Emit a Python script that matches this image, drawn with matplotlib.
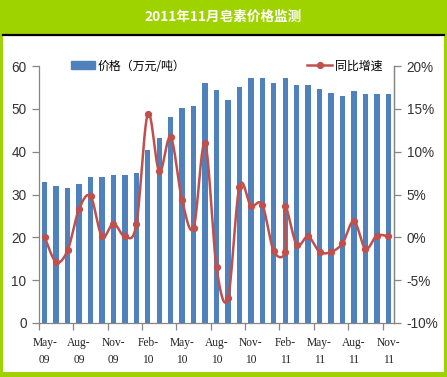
import matplotlib
matplotlib.use("Agg")
import matplotlib.pyplot as plt
import matplotlib.patches as mpatches
from matplotlib.lines import Line2D
import numpy as np

plt.rcParams['font.family'] = ['Noto Sans CJK SC', 'DejaVu Sans']

# ---------------- data ----------------
title = "2011年11月皂素价格监测"
tick_labels = ["May-\n09", "Aug-\n09", "Nov-\n09", "Feb-\n10", "May-\n10", "Aug-\n10",
               "Nov-\n10", "Feb-\n11", "May-\n11", "Aug-\n11", "Nov-\n11"]
prices = [33.0, 32.1, 31.6, 32.5, 34.2, 34.2, 34.6, 34.6, 35.1, 40.3, 43.3, 48.2,
          50.2, 50.7, 56.1, 54.3, 52.1, 55.1, 57.2, 57.2, 56.1, 57.2, 55.6, 55.6,
          54.7, 53.7, 53.0, 54.2, 53.5, 53.5, 53.5]
yoy_month_idx = [0, 1, 2, 3, 4, 5, 6, 7, 8, 9, 10, 11, 12, 13, 14, 15, 16, 17, 18, 19, 20,
                 21, 21, 22, 23, 24, 25, 26, 27, 28, 29, 30]
yoy = [0.0, -2.9, -1.5, 3.3, 4.8, 0.1, 1.6, 0.1, 1.5, 14.4, 7.7, 11.7, 4.3, 1.1, 11.0,
       -3.5, -7.1, 5.9, 3.7, 3.8, -1.6, -1.7, 3.7, -0.85, 0.1, -1.7, -1.7, -0.7, 1.9,
       -1.35, 0.2, 0.1]
bar_label = "价格（万元/吨）"
line_label = "同比增速"

GREEN = '#9FD300'
BLUE = '#4F81BD'
RED = '#C0504D'
GREY = '#868686'

W, H = 447, 377
fig = plt.figure(figsize=(W / 100, H / 100), dpi=100)
fig.patch.set_facecolor('white')

# frame decorations
fig.add_artist(mpatches.Rectangle((0, 1 - 34 / H), 1, 34 / H, transform=fig.transFigure,
                                  facecolor=GREEN, edgecolor='none', zorder=0))
fig.add_artist(mpatches.Rectangle((0, 0), 2.7 / W, 1, transform=fig.transFigure,
                                  facecolor=GREEN, edgecolor='none', zorder=0))
fig.add_artist(mpatches.Rectangle((1 - 3.2 / W, 0), 3.2 / W, 1, transform=fig.transFigure,
                                  facecolor=GREEN, edgecolor='none', zorder=0))
fig.add_artist(mpatches.Rectangle((0, 0), 1, 5 / H, transform=fig.transFigure,
                                  facecolor=GREEN, edgecolor='none', zorder=0))
fig.add_artist(Line2D([2.7 / W, 1 - 3.2 / W], [1 - 34.5 / H, 1 - 34.5 / H],
                      transform=fig.transFigure, color='black', lw=1.6, zorder=1))
fig.text(0.5, 1 - 17 / H, title, color='white', fontsize=9.8, fontweight='heavy',
         ha='center', va='center')

# axes
left, right, top, bottom = 39, 394, 66, 323
ax = fig.add_axes([left / W, 1 - bottom / H, (right - left) / W, (bottom - top) / H])
ax.set_facecolor('white')
n = len(prices)
x = np.arange(n)
ax.bar(x, prices, width=0.47, color=BLUE, zorder=2, label=bar_label)
ax.set_xlim(-0.5, n - 0.5)
ax.set_ylim(0, 60)
ax.set_yticks(np.arange(0, 61, 10))
ax.spines['top'].set_visible(False)
for s in ['left', 'right', 'bottom']:
    ax.spines[s].set_color(GREY)
    ax.spines[s].set_linewidth(0.9)
ax.tick_params(axis='y', direction='out', length=5, width=0.9, color=GREY, pad=4,
               labelsize=9.8, labelcolor='#333333')
for t in ax.get_yticklabels():
    t.set_fontfamily('Liberation Sans')

# x ticks: marks at category boundaries, labels at categories
ax.set_xticks(np.arange(-0.5, n, 3))
ax.set_xticklabels([])
ax.tick_params(axis='x', which='major', direction='out', length=5, width=0.9, color=GREY)
ax.set_xticks(np.arange(0, n, 3), minor=True)
ax.set_xticklabels(tick_labels, minor=True, fontsize=8.3, fontfamily='Liberation Serif',
                   linespacing=1.6, color='#222222')
ax.tick_params(axis='x', which='minor', length=0, pad=10)

# secondary axis with smoothed line
ax2 = ax.twinx()
ax2.set_ylim(-10, 20)
ax2.set_yticks(np.arange(-10, 21, 5))
ax2.set_yticklabels([f"{v}%" for v in range(-10, 21, 5)])
for s in ['top', 'left', 'bottom']:
    ax2.spines[s].set_visible(False)
ax2.spines['right'].set_color(GREY)
ax2.spines['right'].set_linewidth(0.9)
ax2.tick_params(axis='y', direction='out', length=5, width=0.9, color=GREY, pad=4,
                labelsize=9.8, labelcolor='#333333')
for t in ax2.get_yticklabels():
    t.set_fontfamily('Liberation Sans')

# smoothing (Bezier through data points, computed in pixel-proportional space)
px_per_x = (right - left) / n
px_per_y = (bottom - top) / 30.0
P = np.column_stack([np.array(yoy_month_idx, float) * px_per_x,
                     np.array(yoy, float) * px_per_y])
m = len(P)
curve = []
for i in range(m - 1):
    p0 = P[i - 1] if i > 0 else P[i]
    p1, p2 = P[i], P[i + 1]
    p3 = P[i + 2] if i + 2 < m else P[i + 1]
    c1 = p1 + (p2 - p0) / 6.0
    c2 = p2 - (p3 - p1) / 6.0
    t = np.linspace(0, 1, 25)[:, None]
    seg = ((1 - t) ** 3) * p1 + 3 * ((1 - t) ** 2) * t * c1 + 3 * (1 - t) * t ** 2 * c2 + t ** 3 * p2
    curve.append(seg if i == 0 else seg[1:])
curve = np.vstack(curve)
ax2.plot(curve[:, 0] / px_per_x, curve[:, 1] / px_per_y, color=RED, lw=1.8, zorder=3,
         solid_capstyle='round')
ax2.plot(yoy_month_idx, yoy, linestyle='none', marker='o', ms=4.2, color=RED, zorder=4)

# legends
h1 = mpatches.Patch(color=BLUE)
fig.legend([h1], [bar_label], loc='center left', bbox_to_anchor=(71 / W, 1 - 66 / H),
           frameon=False, borderpad=0, borderaxespad=0, handlelength=2.0, handleheight=0.6,
           handletextpad=0.25, fontsize=8.6)
h2 = Line2D([], [], color=RED, lw=1.8, marker='o', ms=4.2)
fig.legend([h2], [line_label], loc='center left', bbox_to_anchor=(307 / W, 1 - 66 / H),
           frameon=False, borderpad=0, borderaxespad=0, handlelength=2.1,
           handletextpad=0.25, fontsize=8.6)

fig.savefig('out.png', dpi=100, facecolor=fig.get_facecolor())
